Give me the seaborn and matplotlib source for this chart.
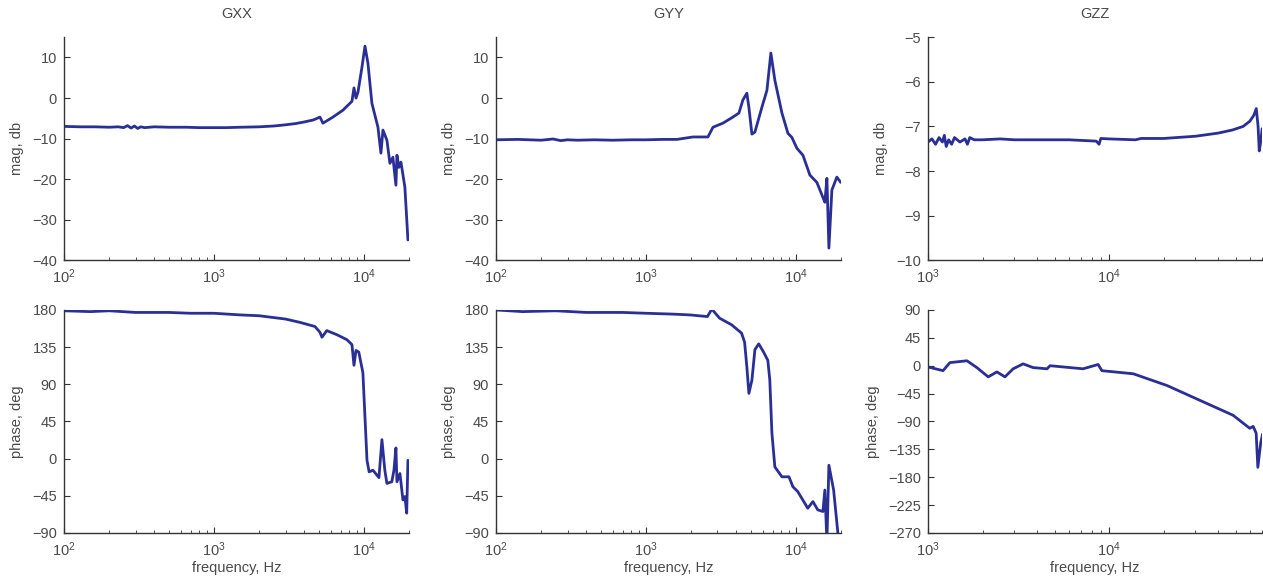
import matplotlib
matplotlib.use('Agg')
import matplotlib.pyplot as plt
import seaborn as sns
import pandas as pd
import numpy as np

sns.set_style('ticks')
plt.rcParams['font.family'] = ['Liberation Sans', 'DejaVu Sans']

# ---- data ----
gxx_mag_f = [100, 130, 160, 200, 230, 250, 265, 280, 295, 310, 325, 345, 400, 500, 650, 800,
             1000, 1200, 1500, 2000, 2500, 3000, 3500, 4000, 4600, 5090, 5330, 6210, 7240,
             8320, 8580, 8850, 9120, 9700, 10160, 10630, 11300, 12400, 12980, 13390, 14230,
             14900, 15600, 16340, 16600, 17100, 17650, 18750, 19650]
gxx_mag = [-7.0, -7.1, -7.1, -7.2, -7.1, -7.3, -6.8, -7.4, -6.9, -7.5, -7.1, -7.3, -7.1, -7.2,
           -7.2, -7.3, -7.3, -7.3, -7.2, -7.1, -6.9, -6.6, -6.3, -5.9, -5.4, -4.7, -6.2, -4.7,
           -3.0, -0.8, 2.5, 0.0, 1.4, 7.6, 12.8, 8.6, -1.3, -7.2, -13.6, -7.9, -10.4, -16.1,
           -14.6, -21.5, -14.1, -17.1, -15.8, -22.0, -35.0]

gyy_mag_f = [100, 140, 200, 240, 270, 300, 350, 450, 600, 800, 1000, 1300, 1610, 2060, 2590,
             2800, 3260, 3800, 4170, 4430, 4710, 4860, 5090, 5330, 5930, 6410, 6810, 7240,
             8070, 8850, 9400, 10160, 11140, 12400, 13800, 15140, 15600, 16100, 16600, 17380,
             18750, 19900]
gyy_mag = [-10.3, -10.2, -10.4, -10.1, -10.5, -10.3, -10.4, -10.3, -10.4, -10.3, -10.3, -10.2,
           -10.2, -9.6, -9.6, -7.2, -6.2, -4.7, -3.7, -0.5, 1.2, -2.3, -8.9, -8.4, -2.3, 1.9,
           11.1, 4.4, -3.7, -8.7, -9.7, -12.4, -14.1, -19.0, -20.8, -24.5, -25.7, -19.8, -37.0,
           -22.7, -19.5, -20.8]

gzz_mag_f = [1000, 1050, 1100, 1150, 1200, 1230, 1260, 1300, 1350, 1400, 1500, 1600, 1650,
             1700, 1800, 2000, 2500, 3000, 4000, 6000, 8500, 8800, 9000, 10000, 14000, 15000,
             20000, 30000, 40000, 48000, 55000, 60000, 63000, 65000, 66500, 67500, 69000, 70000]
gzz_mag = [-7.35, -7.28, -7.4, -7.25, -7.35, -7.2, -7.45, -7.3, -7.4, -7.25, -7.35, -7.28,
           -7.4, -7.25, -7.3, -7.3, -7.28, -7.3, -7.3, -7.3, -7.33, -7.4, -7.27, -7.28, -7.3,
           -7.27, -7.27, -7.22, -7.15, -7.08, -7.0, -6.88, -6.75, -6.6, -7.0, -7.55, -7.3, -7.05]

gxx_ph_f = [100, 150, 200, 300, 500, 700, 1000, 1500, 2000, 3000, 3740, 4710, 5090, 5250,
            5650, 6610, 7700, 8320, 8580, 8850, 9240, 9840, 10160, 10480, 10830, 11480, 12590,
            13180, 13780, 14230, 15340, 15850, 16340, 16600, 17380, 18200, 18750, 19280, 19650]
gxx_ph = [179, 178, 179, 177, 177, 176, 176, 174, 173, 169, 165, 160, 153, 147, 155, 150, 144,
          138, 113, 131, 129, 104, 50, -2, -16, -14, -23, 23, -14, -30, -28, -14, 13, -28, -18,
          -50, -46, -66, -2]

gyy_ph_f = [100, 150, 250, 400, 700, 1000, 1500, 1970, 2570, 2750, 3100, 3730, 4340, 4550,
            4710, 4860, 5090, 5330, 5650, 6090, 6500, 6700, 6920, 7240, 8070, 8990, 9550,
            10300, 12000, 12990, 13990, 15140, 15600, 16100, 16600, 17850, 19100]
gyy_ph = [180, 178, 179, 177, 177, 176, 175, 174, 172, 181, 170, 162, 152, 141, 111, 79, 95,
          132, 139, 129, 119, 95, 31, -10, -22, -22, -34, -40, -60, -52, -62, -64, -38, -100,
          -8, -38, -92]

gzz_ph_f = [1000, 1210, 1320, 1640, 1860, 2150, 2400, 2660, 2950, 3350, 3800, 4540, 4720,
            7180, 8700, 9120, 13600, 20900, 31800, 48400, 59800, 62500, 64900, 66300, 68800,
            70500]
gzz_ph = [-2, -8, 5, 8, -3, -18, -10, -18, -5, 3, -3, -5, 0, -5, 2, -8, -13, -32, -56, -80,
          -101, -98, -109, -164, -124, -110]

titles = ['GXX', 'GYY', 'GZZ']
mag_sets = [(gxx_mag_f, gxx_mag), (gyy_mag_f, gyy_mag), (gzz_mag_f, gzz_mag)]
ph_sets = [(gxx_ph_f, gxx_ph), (gyy_ph_f, gyy_ph), (gzz_ph_f, gzz_ph)]
xlims = [(100, 2e4), (100, 2e4), (1e3, 7e4)]
mag_lims = [(-40, 15), (-40, 15), (-10, -5)]
mag_ticks = [np.arange(-40, 11, 10), np.arange(-40, 11, 10), np.arange(-10, -4, 1)]
ph_lims = [(-90, 180), (-90, 180), (-270, 90)]
ph_ticks = [np.arange(-90, 181, 45), np.arange(-90, 181, 45), np.arange(-270, 91, 45)]

line_color = '#2a2f96'
text_color = '#4a4a4a'

fig = plt.figure(figsize=(12.63, 5.77), dpi=100)
lefts = [0.0507, 0.3927, 0.7348]
widths = [0.2732, 0.2732, 0.2645]
h = 0.3865
bottoms = [0.549, 0.0763]


def style_axis(ax, xlim, ylim, yticks, ylabel):
    ax.set_xscale('log')
    ax.set_xlim(*xlim)
    ax.set_ylim(*ylim)
    ax.set_yticks(yticks)
    sns.despine(ax=ax)
    for s in ['left', 'bottom']:
        ax.spines[s].set_color('#333333')
        ax.spines[s].set_linewidth(1.0)
    ax.tick_params(which='major', direction='in', length=4, color='#333333',
                   labelsize=10.5, labelcolor=text_color, pad=5)
    ax.tick_params(which='minor', direction='in', length=2.5, color='#333333')
    ax.set_ylabel(ylabel, fontsize=10.5, color=text_color, labelpad=6)
    ax.set_xlabel('')


for i in range(3):
    ax = fig.add_axes([lefts[i], bottoms[0], widths[i], h])
    df = pd.DataFrame({'f': mag_sets[i][0], 'v': mag_sets[i][1]})
    sns.lineplot(data=df, x='f', y='v', ax=ax, color=line_color, lw=2.0, sort=False)
    style_axis(ax, xlims[i], mag_lims[i], mag_ticks[i], 'mag, db')
    ax.set_title(titles[i], fontsize=10.5, color=text_color, pad=14)

    ax = fig.add_axes([lefts[i], bottoms[1], widths[i], h])
    df = pd.DataFrame({'f': ph_sets[i][0], 'v': ph_sets[i][1]})
    sns.lineplot(data=df, x='f', y='v', ax=ax, color=line_color, lw=2.0, sort=False)
    style_axis(ax, xlims[i], ph_lims[i], ph_ticks[i], 'phase, deg')
    ax.set_xlabel('frequency, Hz', fontsize=10.5, color=text_color, labelpad=2)

fig.savefig('out.png', dpi=100)
